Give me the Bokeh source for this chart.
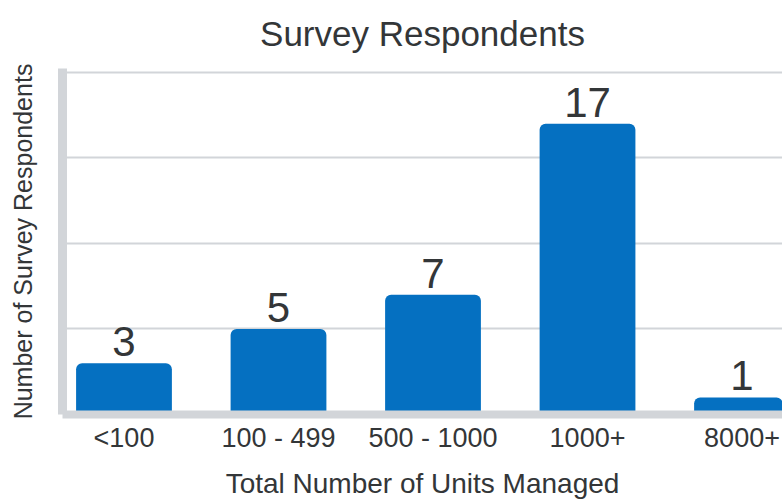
from bokeh.plotting import figure
from bokeh.models import Range1d, FixedTicker, ColumnDataSource
from bokeh.embed import file_html
from bokeh.resources import INLINE
from bokeh.core.properties import value

categories = ["<100", "100 - 499", "500 - 1000", "1000+", "8000+"]
counts = [3, 5, 7, 17, 1]
grid_ticks = [5, 10, 15, 20]

FONT = "Liberation Sans"
TXT = "#333638"
BAR = "#0570C1"
AXIS = "#d2d5d9"

xpos = list(range(len(categories)))
src = ColumnDataSource(dict(x=xpos, top=counts, label=[str(c) for c in counts]))

p = figure(width=782, height=501, output_backend="svg", toolbar_location=None,
           x_range=Range1d(-0.398, 4.262), y_range=Range1d(0, 20.23),
           min_border_left=62, min_border_right=0, min_border_top=66,
           min_border_bottom=85)
p.outline_line_color = None
p.background_fill_color = "white"

p.title.text = "Survey Respondents"
p.title.text_font = FONT
p.title.text_font_size = "35px"
p.title.text_font_style = "normal"
p.title.text_color = TXT
p.title.align = "center"
p.title.vertical_align = "top"
p.title.standoff = 27

p.vbar(x="x", top="top", width=0.62, bottom=0, source=src, fill_color=BAR,
       line_color=None, border_radius=(6, 6, 0, 0))
p.text(x="x", y="top", text="label", source=src, text_align="center",
       text_baseline="bottom", y_offset=-7, text_font=value(FONT),
       text_font_size="42px", text_color=TXT)

p.xgrid.grid_line_color = None
p.ygrid.ticker = FixedTicker(ticks=grid_ticks)
p.ygrid.grid_line_color = AXIS
p.ygrid.grid_line_width = 2

xa = p.xaxis[0]
xa.ticker = FixedTicker(ticks=xpos)
xa.major_label_overrides = {i: c for i, c in enumerate(categories)}
xa.axis_line_color = AXIS
xa.axis_line_width = 8
xa.major_tick_line_color = None
xa.minor_tick_line_color = None
xa.major_tick_out = 0
xa.major_tick_in = 0
xa.major_label_text_font = FONT
xa.major_label_text_font_size = "27px"
xa.major_label_text_color = TXT
xa.major_label_standoff = 8
xa.axis_label = "Total Number of Units Managed"
xa.axis_label_text_font = FONT
xa.axis_label_text_font_size = "28px"
xa.axis_label_text_font_style = "normal"
xa.axis_label_text_color = TXT
xa.axis_label_standoff = 12

ya = p.yaxis[0]
ya.ticker = FixedTicker(ticks=[])
ya.axis_line_color = AXIS
ya.axis_line_width = 9
ya.major_tick_line_color = None
ya.minor_tick_line_color = None
ya.major_tick_out = 0
ya.major_tick_in = 0
ya.major_label_standoff = 0
ya.axis_label = "Number of Survey Respondents"
ya.axis_label_text_font = FONT
ya.axis_label_text_font_size = "25px"
ya.axis_label_text_font_style = "normal"
ya.axis_label_text_color = TXT
ya.axis_label_standoff = 26

open("out.html", "w").write(file_html(p, INLINE))
